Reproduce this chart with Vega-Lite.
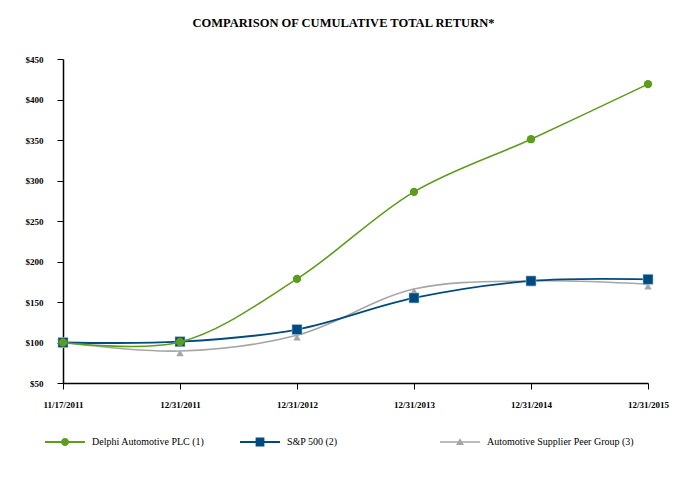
{
  "$schema": "https://vega.github.io/schema/vega-lite/v6.json",
  "width": 585,
  "height": 324,
  "autosize": {"type": "none"},
  "padding": {"left": 63, "top": 59, "right": 34, "bottom": 97},
  "background": "white",
  "title": {
    "text": "COMPARISON OF CUMULATIVE TOTAL RETURN*",
    "font": "Liberation Serif",
    "fontSize": 12.5,
    "fontWeight": "bold",
    "color": "black",
    "anchor": "middle",
    "offset": 26,
    "dx": -12
  },
  "config": {
    "view": {"stroke": null},
    "axis": {
      "labelFont": "Liberation Serif",
      "labelFontSize": 9,
      "labelFontWeight": "bold",
      "labelColor": "black",
      "domainColor": "black",
      "tickColor": "black",
      "domainWidth": 1.5,
      "tickWidth": 1,
      "tickSize": 6,
      "grid": false,
      "title": null
    },
    "legend": {"padding": 0}
  },
  "data": {
    "values": [
      {"date": "11/17/2011", "series": "Delphi Automotive PLC (1)", "value": 100},
      {"date": "12/31/2011", "series": "Delphi Automotive PLC (1)", "value": 100.6},
      {"date": "12/31/2012", "series": "Delphi Automotive PLC (1)", "value": 178.5},
      {"date": "12/31/2013", "series": "Delphi Automotive PLC (1)", "value": 286},
      {"date": "12/31/2014", "series": "Delphi Automotive PLC (1)", "value": 351},
      {"date": "12/31/2015", "series": "Delphi Automotive PLC (1)", "value": 419},
      {"date": "11/17/2011", "series": "S&P 500 (2)", "value": 100},
      {"date": "12/31/2011", "series": "S&P 500 (2)", "value": 101},
      {"date": "12/31/2012", "series": "S&P 500 (2)", "value": 116},
      {"date": "12/31/2013", "series": "S&P 500 (2)", "value": 155},
      {"date": "12/31/2014", "series": "S&P 500 (2)", "value": 176},
      {"date": "12/31/2015", "series": "S&P 500 (2)", "value": 178},
      {"date": "11/17/2011", "series": "Automotive Supplier Peer Group (3)", "value": 100},
      {"date": "12/31/2011", "series": "Automotive Supplier Peer Group (3)", "value": 89.5},
      {"date": "12/31/2012", "series": "Automotive Supplier Peer Group (3)", "value": 109},
      {"date": "12/31/2013", "series": "Automotive Supplier Peer Group (3)", "value": 166},
      {"date": "12/31/2014", "series": "Automotive Supplier Peer Group (3)", "value": 176},
      {"date": "12/31/2015", "series": "Automotive Supplier Peer Group (3)", "value": 172}
    ]
  },
  "encoding": {
    "x": {
      "field": "date",
      "type": "ordinal",
      "sort": null,
      "scale": {"type": "point", "padding": 0},
      "axis": {"labelAngle": 0, "labelPadding": 11}
    },
    "y": {
      "field": "value",
      "type": "quantitative",
      "scale": {"domain": [50, 450], "nice": false, "zero": false},
      "axis": {"values": [50, 100, 150, 200, 250, 300, 350, 400, 450], "format": "$.0f", "labelPadding": 14}
    }
  },
  "layer": [
    {
      "transform": [{"filter": "datum.series === 'Automotive Supplier Peer Group (3)'"}],
      "mark": {
        "type": "line",
        "interpolate": "catmull-rom",
        "strokeWidth": 1.6,
        "point": {"shape": "triangle-up", "size": 55, "filled": true, "color": "#a6a6a6", "yOffset": 2}
      },
      "encoding": {
        "color": {
          "field": "series",
          "type": "nominal",
          "scale": {"domain": ["Automotive Supplier Peer Group (3)"], "range": ["#a6a6a6"]},
          "legend": {
            "orient": "none",
            "legendX": 377,
            "legendY": 363,
            "title": null,
            "labelFont": "Liberation Serif",
            "labelFontSize": 10,
            "labelColor": "black",
            "labelOffset": 7,
            "symbolSize": 1600,
            "symbolType": "M-1,-0.04H1V0.04H-1Z M0,-0.19L0.2,0.15L-0.2,0.15Z",
            "encode": {"symbols": {"update": {"fill": {"value": "#a6a6a6"}, "stroke": {"value": "transparent"}, "strokeWidth": {"value": 0}}}}
          }
        }
      }
    },
    {
      "transform": [{"filter": "datum.series === 'S&P 500 (2)'"}],
      "mark": {
        "type": "line",
        "interpolate": "catmull-rom",
        "strokeWidth": 1.8,
        "point": {"shape": "square", "size": 100, "filled": true, "color": "#004a80", "stroke": "#9fc2dd", "strokeWidth": 0.6}
      },
      "encoding": {
        "color": {
          "field": "series",
          "type": "nominal",
          "scale": {"domain": ["S&P 500 (2)"], "range": ["#004a80"]},
          "legend": {
            "orient": "none",
            "legendX": 177,
            "legendY": 363,
            "title": null,
            "labelFont": "Liberation Serif",
            "labelFontSize": 10,
            "labelColor": "black",
            "labelOffset": 7,
            "symbolSize": 1600,
            "symbolType": "M-1,-0.05H1V0.05H-1Z M-0.22,-0.22H0.22V0.22H-0.22Z",
            "encode": {"symbols": {"update": {"fill": {"value": "#004a80"}, "stroke": {"value": "transparent"}, "strokeWidth": {"value": 0}}}}
          }
        }
      }
    },
    {
      "transform": [{"filter": "datum.series === 'Delphi Automotive PLC (1)'"}],
      "mark": {
        "type": "line",
        "interpolate": "catmull-rom",
        "strokeWidth": 1.6,
        "point": {"shape": "circle", "size": 70, "filled": true, "color": "#5e9c1c", "opacity": 1}
      },
      "encoding": {
        "color": {
          "field": "series",
          "type": "nominal",
          "scale": {"domain": ["Delphi Automotive PLC (1)"], "range": ["#5e9c1c"]},
          "legend": {
            "orient": "none",
            "legendX": -18,
            "legendY": 363,
            "title": null,
            "labelFont": "Liberation Serif",
            "labelFontSize": 10,
            "labelColor": "black",
            "labelOffset": 7,
            "symbolSize": 1600,
            "symbolType": "M-1,-0.045H1V0.045H-1Z M0.2,0A0.2,0.2 0 1,1 -0.2,0A0.2,0.2 0 1,1 0.2,0Z",
            "encode": {"symbols": {"update": {"fill": {"value": "#5e9c1c"}, "stroke": {"value": "transparent"}, "strokeWidth": {"value": 0}}}}
          }
        }
      }
    }
  ],
  "resolve": {"scale": {"color": "independent"}, "legend": {"color": "independent"}}
}
